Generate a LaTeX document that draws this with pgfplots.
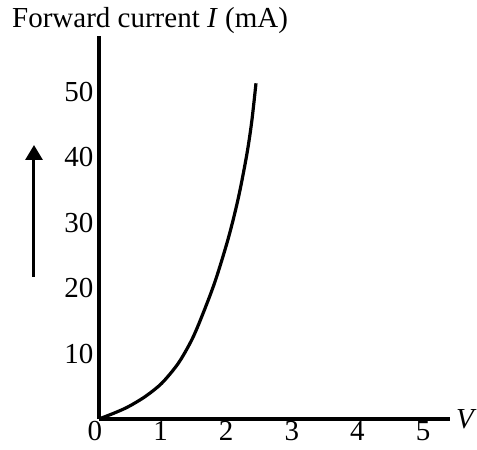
\documentclass[border=0pt]{standalone}
\usepackage{pgfplots}
\pgfplotsset{compat=1.18}
\usetikzlibrary{arrows.meta}
\usepackage{fontspec}
\setmainfont{Liberation Serif}
\newcommand{\bigfont}{\fontsize{29}{33}\selectfont}

\begin{document}
\begin{tikzpicture}
\begin{axis}[
    name=ax,
    x=65.6pt, y=6.54pt,
    xmin=0, xmax=5.35,
    ymin=0, ymax=58.6,
    axis lines=left,
    axis line style={-, line width=3.2pt},
    xtick={0,1,2,3,4,5},
    ytick={10,20,30,40,50},
    major tick length=0pt,
    /pgf/number format/assume math mode=true,
    tick label style={font=\bigfont},
    xticklabel style={xshift=-4pt, yshift=-1pt, inner sep=1pt},
    yticklabel style={xshift=-2pt},
    clip=false,
]
\addplot[black, line width=3.2pt, smooth] coordinates {
    (0,0) (0.244,0.96) (0.447,1.88) (0.701,3.41) (0.956,5.46) (1.209,8.52)
    (1.413,12.08) (1.566,15.64) (1.768,20.99) (1.971,27.63) (2.123,33.75)
    (2.252,40.37) (2.328,45.46) (2.393,51.33)
};
\end{axis}
% axis titles
\node[anchor=base west, inner sep=0, font=\bigfont] at ([shift={(-87pt,8pt)}]ax.north west)
    {Forward current \textit{I} (mA)};
\node[anchor=west, inner sep=0, font=\bigfont] at ([shift={(6pt,0pt)}]ax.south east) {\textit{V}};
% upward arrow beside the y axis
\draw[line width=3pt, -{Triangle[width=17pt,length=15pt]}]
    ([shift={(-65pt,142pt)}]ax.south west) -- ([shift={(-65pt,274pt)}]ax.south west);
\useasboundingbox ([shift={(-99pt,-31pt)}]ax.south west) rectangle ([shift={(378pt,419pt)}]ax.south west);
\end{tikzpicture}
\end{document}
